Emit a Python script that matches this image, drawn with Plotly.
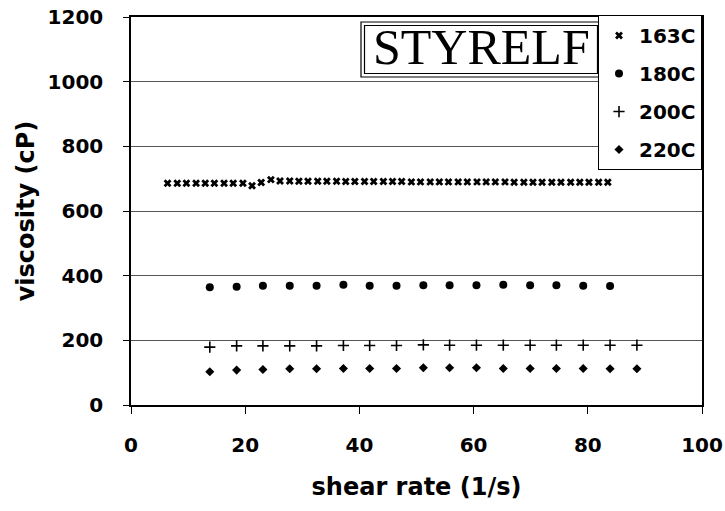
import plotly.graph_objects as go

# ---- data ----
series_names = ["163C", "180C", "200C", "220C"]

x_163 = [6.4, 8.1, 9.7, 11.4, 13.0, 14.6, 16.3, 17.9, 19.6, 21.2, 22.8, 24.5,
         26.1, 27.8, 29.4, 31.0, 32.7, 34.3, 36.0, 37.6, 39.2, 40.9, 42.5, 44.2,
         45.8, 47.4, 49.1, 50.7, 52.4, 54.0, 55.6, 57.3, 58.9, 60.6, 62.2, 63.8,
         65.5, 67.1, 68.8, 70.4, 72.0, 73.7, 75.3, 77.0, 78.6, 80.2, 81.9, 83.5]
y_163 = [686, 686, 686, 686, 686, 686, 686, 686, 686, 678, 688, 697,
         693, 693, 692, 692, 692, 692, 692, 691, 691, 691, 691, 691,
         691, 691, 690, 690, 690, 690, 690, 690, 690, 690, 690, 690,
         690, 689, 689, 689, 689, 689, 689, 689, 689, 689, 689, 689]

x_180 = [13.8, 18.5, 23.1, 27.8, 32.5, 37.2, 41.8, 46.5, 51.2, 55.8, 60.5,
         65.2, 69.9, 74.5, 79.2, 83.9]
y_180 = [364, 366, 369, 369, 369, 372, 369, 369, 370, 370, 370,
         372, 370, 370, 369, 368]

x_200 = [13.8, 18.5, 23.1, 27.8, 32.5, 37.2, 41.8, 46.5, 51.2, 55.8, 60.5,
         65.2, 69.9, 74.5, 79.2, 83.9, 88.6]
y_200 = [179, 183, 183, 183, 183, 184, 184, 184, 186, 185, 185,
         185, 185, 185, 185, 185, 185]

x_220 = [13.8, 18.5, 23.1, 27.8, 32.5, 37.2, 41.8, 46.5, 51.2, 55.8, 60.5,
         65.2, 69.9, 74.5, 79.2, 83.9, 88.6]
y_220 = [103, 108, 110, 112, 112, 113, 113, 113, 115, 115, 115,
         113, 113, 113, 113, 112, 112]

x_ticks = [0, 20, 40, 60, 80, 100]
y_ticks = [0, 200, 400, 600, 800, 1000, 1200]

x_title = "shear rate (1/s)"
y_title = "viscosity (cP)"
label_text = "STYRELF"

# ---- figure ----
SANS = "DejaVu Sans"
fig = go.Figure()

fig.add_trace(go.Scatter(x=x_163, y=y_163, mode="markers", name=series_names[0],
                         legendgroup="a",
                         marker=dict(symbol="x", size=7, color="black")))
fig.add_trace(go.Scatter(x=x_180, y=y_180, mode="markers", name=series_names[1],
                         legendgroup="b",
                         marker=dict(symbol="circle", size=8, color="black")))
fig.add_trace(go.Scatter(x=x_200, y=y_200, mode="markers", name=series_names[2],
                         legendgroup="c",
                         marker=dict(symbol="cross-thin", size=8, color="black",
                                     line=dict(color="black", width=1.6))))
fig.add_trace(go.Scatter(x=x_220, y=y_220, mode="markers", name=series_names[3],
                         legendgroup="d",
                         marker=dict(symbol="diamond", size=7, color="black")))

# plot area (page pixels): x 131..702, y 17..405
def px_x(p):
    return (p - 131) / 571.0

def px_y(p):
    return (405 - p) / 388.0

# double-bordered STYRELF label
fig.add_shape(type="rect", xref="paper", yref="paper",
              x0=px_x(361), x1=px_x(601), y0=px_y(77), y1=px_y(22),
              line=dict(color="black", width=1.2), fillcolor="white", layer="above")
fig.add_shape(type="rect", xref="paper", yref="paper",
              x0=px_x(364.5), x1=px_x(597.5), y0=px_y(73.5), y1=px_y(25.5),
              line=dict(color="black", width=1.2), layer="above")
fig.add_annotation(text=label_text, xref="paper", yref="paper",
                   x=px_x(481), y=px_y(47), xanchor="center", yanchor="middle",
                   showarrow=False,
                   font=dict(family="Liberation Serif", size=50, color="black"))

fig.update_layout(
    width=725, height=511,
    margin=dict(l=131, r=23, t=17, b=106),
    paper_bgcolor="white", plot_bgcolor="white",
    font=dict(family=SANS, color="black"),
    showlegend=True,
    legend=dict(x=1.0, xanchor="right", y=1.005, yanchor="top",
                bgcolor="white", bordercolor="black", borderwidth=1,
                font=dict(family=SANS, size=20, color="black", weight="bold"),
                tracegroupgap=9, itemwidth=30),
)

fig.update_xaxes(
    range=[0, 100], tickvals=x_ticks, ticktext=[str(v) for v in x_ticks],
    automargin=False, ticklabeloverflow="allow",
    showline=True, linecolor="black", linewidth=1.5, mirror=True,
    ticks="outside", ticklen=7, tickcolor="black", tickwidth=1.2,
    showgrid=False, zeroline=False,
    tickfont=dict(family=SANS, size=20, color="black", weight="bold"),
    ticklabelstandoff=14,
    title=dict(text=x_title, standoff=22,
               font=dict(family=SANS, size=24, color="black", weight="bold")),
)
fig.update_yaxes(
    range=[0, 1200], tickvals=y_ticks, ticktext=[str(v) for v in y_ticks],
    automargin=False, ticklabeloverflow="allow",
    showline=True, linecolor="black", linewidth=1.5, mirror=True,
    ticks="outside", ticklen=6, tickcolor="black", tickwidth=1.2,
    showgrid=True, gridcolor="#555555", gridwidth=1, zeroline=False,
    tickfont=dict(family=SANS, size=20, color="black", weight="bold"),
    ticklabelstandoff=16,
    title=dict(text=y_title, standoff=6,
               font=dict(family=SANS, size=24, color="black", weight="bold")),
)

# remove the page's default 8px body margin so the figure fills the window
fig.write_html("out.html",
               config={"displayModeBar": False},
               post_script="document.body.style.margin='0';document.body.style.overflow='hidden';")
